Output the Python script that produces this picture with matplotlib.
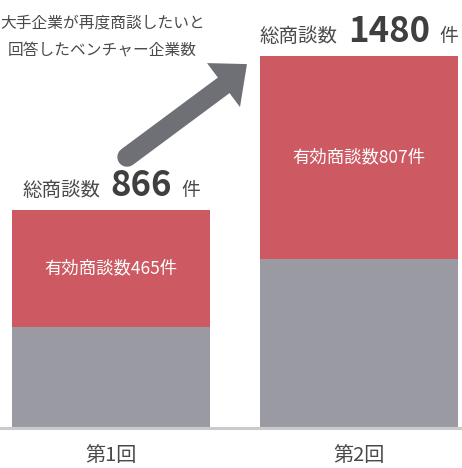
import matplotlib.pyplot as plt
from matplotlib.offsetbox import TextArea, HPacker, AnnotationBbox

plt.rcParams['font.family'] = ['Noto Sans CJK JP', 'DejaVu Sans']

# data
rounds = ["第1回", "第2回"]
total_deals = [866, 1480]
effective_deals = [465, 807]

color_red = "#cd5a62"
color_gray = "#9a9aa2"
color_arrow = "#6f7075"
color_text = "#4a4a4a"

fig = plt.figure(figsize=(4.62, 4.68), dpi=100)
ax = fig.add_axes([0, 40 / 468, 1, 428 / 468])

x = list(range(len(rounds)))
other_deals = [t - e for t, e in zip(total_deals, effective_deals)]
ax.bar(x, other_deals, width=0.8, color=color_gray)
ax.bar(x, effective_deals, width=0.8, bottom=other_deals, color=color_red)

ax.set_xlim(-0.4476, 1.415)
ax.set_ylim(0, 1703)

# labels inside red segments
for xi, o, e in zip(x, other_deals, effective_deals):
    ax.text(xi, o + e / 2, f"有効商談数{e}件", ha='center', va='center',
            color='white', fontsize=12.5)

# total labels above bars
for xi, t in zip(x, total_deals):
    parts = [
        TextArea("総商談数", textprops=dict(fontsize=14, color=color_text)),
        TextArea(str(t), textprops=dict(fontsize=25, fontweight='bold', color="#3f3f3f")),
        TextArea("件", textprops=dict(fontsize=13.5, color=color_text)),
    ]
    box = HPacker(children=parts, align='baseline', pad=0, sep=7)
    ab = AnnotationBbox(box, (xi, t), xybox=(0, 5), xycoords='data',
                        boxcoords='offset points', box_alignment=(0.5, 0),
                        frameon=False)
    ax.add_artist(ab)

# arrow between the two totals
tail = (0.0645, 1078)
head_base = (0.455, 1364)
ax.plot([tail[0], head_base[0]], [tail[1], head_base[1]], color=color_arrow,
        linewidth=14, solid_capstyle='round')
ax.fill([0.387, 0.548, 0.520], [1452, 1448, 1277], color=color_arrow, linewidth=0)

ax.text(-0.035, 1558, "大手企業が再度商談したいと\n回答したベンチャー企業数", ha='center',
        va='center', fontsize=11.3, color=color_text, linespacing=1.8)

for side in ['top', 'right', 'left']:
    ax.spines[side].set_visible(False)
ax.spines['bottom'].set_color("#c9c9ce")
ax.spines['bottom'].set_linewidth(2.2)
ax.set_yticks([])
ax.set_xticks(x)
ax.set_xticklabels(rounds, fontsize=14.5, color=color_text)
ax.tick_params(axis='x', length=0, pad=12)

fig.savefig("out.png", dpi=100)
